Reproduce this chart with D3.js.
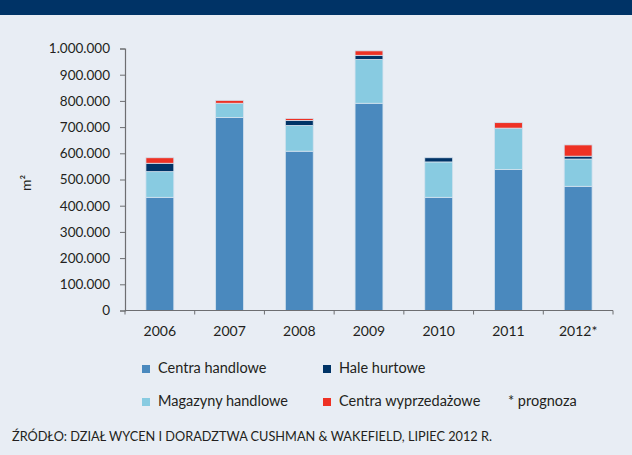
<!DOCTYPE html>
<html>
<meta charset="utf-8">
<style>
    body { margin: 0; background: #e8edf4; }
    svg text { font-family: Lato, 'Open Sans', sans-serif; fill: #231f20; }
</style>
<body>
<svg id="chart" width="632" height="455"></svg>
<script src="https://cdnjs.cloudflare.com/ajax/libs/d3/7.8.5/d3.min.js"></script>
<script>
    const years = ["2006", "2007", "2008", "2009", "2010", "2011", "2012*"];
    const centraHandlowe = [432000, 737000, 608000, 791000, 432000, 538000, 474000];
    const magazynyHandlowe = [98000, 54000, 98000, 167000, 135000, 158000, 104000];
    const haleHurtowe = [32000, 0, 19000, 16000, 16000, 0, 11000];
    const centraWyprzedazowe = [21000, 11000, 8000, 17000, 0, 21000, 43000];
    const yTicks = [0, 100000, 200000, 300000, 400000, 500000, 600000, 700000, 800000, 900000, 1000000];

    const seriesNames = ["Centra handlowe", "Magazyny handlowe", "Hale hurtowe", "Centra wyprzedażowe"];
    const colors = ["#4a89be", "#88cbe1", "#003366", "#ee3124"];

    const svg = d3.select("#chart");

    // dark title band at top (title itself is cut off)
    svg.append("rect").attr("x", 0).attr("y", 0).attr("width", 632).attr("height", 15).attr("fill", "#003366");

    const x = d3.scaleBand().domain(years).range([125, 613]).paddingInner(0.6).paddingOuter(0.3);
    const y = d3.scaleLinear().domain([0, 1000000]).range([310.5, 48.5]);

    const table = years.map((yr, i) => ({
        year: yr,
        "Centra handlowe": centraHandlowe[i],
        "Magazyny handlowe": magazynyHandlowe[i],
        "Hale hurtowe": haleHurtowe[i],
        "Centra wyprzedażowe": centraWyprzedazowe[i]
    }));
    const stacked = d3.stack().keys(seriesNames)(table);

    svg.append("g")
        .selectAll("g")
        .data(stacked)
        .join("g")
        .attr("fill", (d, i) => colors[i])
        .selectAll("rect")
        .data(d => d.filter(p => p[1] > p[0]))
        .join("rect")
        .attr("x", d => x(d.data.year))
        .attr("width", x.bandwidth())
        .attr("y", d => y(d[1]))
        .attr("height", d => y(d[0]) - y(d[1]))
        .attr("stroke", "#d4e2ee")
        .attr("stroke-width", 0.8);

    const fmt = v => v.toLocaleString("de-DE");

    const yAxis = svg.append("g")
        .attr("transform", "translate(125,0)")
        .call(d3.axisLeft(y).tickValues(yTicks).tickFormat(fmt).tickSize(5).tickPadding(10));
    yAxis.select(".domain").attr("stroke", "#6d6e71").attr("stroke-width", 1.2);
    yAxis.selectAll(".tick line").attr("stroke", "#6d6e71");
    yAxis.selectAll("text").attr("font-size", 13.5).attr("fill", "#231f20").style("font-family", "Lato, sans-serif");

    // x axis with ticks at band boundaries
    const xAxisG = svg.append("g").attr("transform", "translate(0,310.5)");
    xAxisG.append("line").attr("x1", 125).attr("x2", 613).attr("stroke", "#6d6e71").attr("stroke-width", 1.2);
    const bounds = d3.range(years.length + 1).map(i => 125 + i * (488 / years.length));
    xAxisG.selectAll(".tk").data(bounds).join("line")
        .attr("x1", d => d).attr("x2", d => d).attr("y1", 0).attr("y2", 4)
        .attr("stroke", "#6d6e71");
    xAxisG.selectAll(".lbl").data(years).join("text")
        .attr("x", d => x(d) + x.bandwidth() / 2)
        .attr("y", 25)
        .attr("text-anchor", "middle")
        .attr("font-size", 14)
        .text(d => d);

    // y label m²
    svg.append("text")
        .attr("transform", "translate(31,183) rotate(-90)")
        .attr("text-anchor", "middle")
        .attr("font-size", 14)
        .text("m²");

    // legend
    const legendItems = [
        { name: "Centra handlowe", c: colors[0], x: 142, y: 365 },
        { name: "Hale hurtowe", c: colors[2], x: 323, y: 365 },
        { name: "Magazyny handlowe", c: colors[1], x: 142, y: 398 },
        { name: "Centra wyprzedażowe", c: colors[3], x: 323, y: 398 }
    ];
    const lg = svg.append("g").selectAll("g").data(legendItems).join("g");
    lg.append("rect").attr("x", d => d.x).attr("y", d => d.y).attr("width", 8).attr("height", 8).attr("fill", d => d.c);
    lg.append("text").attr("x", d => d.x + 16).attr("y", d => d.y + 8).attr("font-size", 14.5).text(d => d.name);
    svg.append("text").attr("x", 508).attr("y", 406).attr("font-size", 14.5).text("* prognoza");

    // source
    svg.append("text")
        .attr("x", 12).attr("y", 441)
        .attr("font-size", 13.5)
        .attr("textLength", 480)
        .attr("lengthAdjust", "spacingAndGlyphs")
        .text("ŹRÓDŁO: DZIAŁ WYCEN I DORADZTWA CUSHMAN & WAKEFIELD, LIPIEC 2012 R.");
</script>
</body>
</html>
